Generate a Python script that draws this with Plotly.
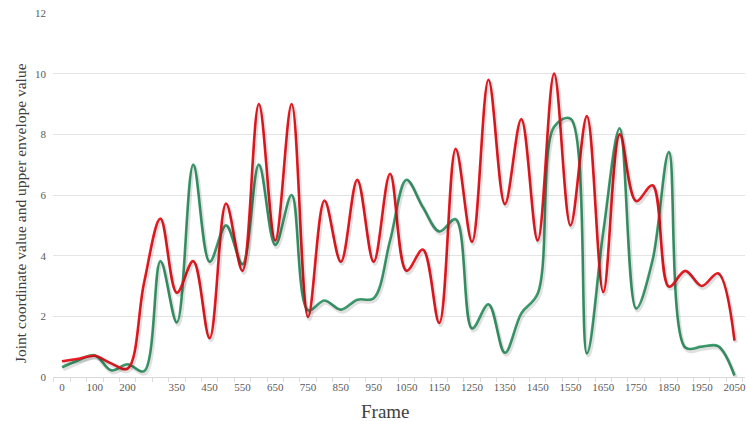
import plotly.graph_objects as go

frames = list(range(0, 2051, 50))
red_values = [0.52, 0.6, 0.7, 0.45, 0.28, 3.1, 5.22, 2.78, 3.82, 1.28, 5.72, 3.5, 9.0, 4.5, 9.0, 1.98,
              5.82, 3.8, 6.5, 3.8, 6.7, 3.5, 4.2, 1.78, 7.52, 4.46, 9.8, 5.7, 8.5, 4.5, 10.0, 5.0,
              8.6, 2.8, 8.0, 5.8, 6.32, 2.98, 3.5, 3.0, 3.42, 1.2]
green_values = [0.32, 0.55, 0.72, 0.22, 0.42, 0.19, 3.82, 1.8, 7.0, 3.8, 5.0, 3.72, 7.0, 4.35, 6.0, 2.2,
                2.52, 2.22, 2.55, 2.6, 4.5, 6.5, 5.6, 4.8, 5.2, 1.6, 2.4, 0.8, 2.1, 2.75, 8.25, 8.52,
                0.78, 4.8, 8.2, 2.26, 3.85, 7.42, 0.97, 1.0, 1.02, 0.05]
x_tick_values = [0, 100, 200] + list(range(350, 2051, 100))
y_tick_values = [0, 2, 4, 6, 8, 10, 12]

RED = "#ec1c24"
GREEN = "#3d9c6e"
SERIF = "Liberation Serif, Times New Roman, serif"

W, H = 748, 421
ML, MR, MT, MB = 53, 3, 13, 44

xr = [-27.4, 2082]
yr = [0, 12]
dx = 4.0
dy = 0.07

fig = go.Figure()
# soft shadows (drawn on offset overlay axes)
for vals in (red_values, green_values):
    fig.add_trace(go.Scatter(x=frames, y=vals, mode="lines", xaxis="x2", yaxis="y2",
                             line=dict(color="rgba(0,0,0,0.12)", width=4, shape="spline", smoothing=1.0),
                             hoverinfo="skip", showlegend=False))
fig.add_trace(go.Scatter(x=frames, y=green_values, mode="lines", name="Joint coordinate value",
                         line=dict(color=GREEN, width=2.6, shape="spline", smoothing=1.0), showlegend=False))
fig.add_trace(go.Scatter(x=frames, y=red_values, mode="lines", name="Upper envelope value",
                         line=dict(color=RED, width=2.6, shape="spline", smoothing=1.0), showlegend=False))

pw = W - ML - MR
ph = H - MT - MB

def px_to_paper_x(px):
    return (px - ML) / pw

def px_to_paper_y(py):
    return (H - MB - py) / ph

fig.update_layout(
    width=W, height=H,
    margin=dict(l=ML, r=MR, t=MT, b=MB, autoexpand=False),
    paper_bgcolor="white", plot_bgcolor="white",
    font=dict(family=SERIF, color="#595959", size=11),
    xaxis=dict(range=xr, tickmode="array", tickvals=x_tick_values, ticktext=[str(v) for v in x_tick_values],
               automargin=False,
               showgrid=False, zeroline=False, showline=True, linecolor="#d9d9d9", linewidth=1,
               ticks="", ticklen=0,
               minor=dict(tickmode="array", tickvals=[v - 25 for v in range(0, 2101, 50)],
                          ticks="outside", ticklen=4, tickcolor="#d9d9d9"),
               tickfont=dict(family=SERIF, size=11, color="#595959")),
    yaxis=dict(range=yr, tickvals=y_tick_values, showgrid=True, gridcolor="#e4e4e4", gridwidth=1,
               automargin=False,
               zeroline=False, showline=False, ticks="", ticklabelstandoff=6,
               tickfont=dict(family=SERIF, size=11, color="#595959")),
    xaxis2=dict(range=[xr[0] - dx, xr[1] - dx], overlaying="x", visible=False),
    yaxis2=dict(range=[yr[0] + dy, yr[1] + dy], overlaying="y", visible=False),
    annotations=[
        dict(text="Frame", xref="paper", yref="paper", x=px_to_paper_x(385), y=px_to_paper_y(411),
             xanchor="center", yanchor="middle", showarrow=False,
             font=dict(family=SERIF, size=19, color="#404040")),
        dict(text="Joint coordinate value and upper envelope value", xref="paper", yref="paper",
             x=px_to_paper_x(20), y=px_to_paper_y(213), textangle=-90,
             xanchor="center", yanchor="middle", showarrow=False,
             font=dict(family=SERIF, size=15.5, color="#404040")),
    ],
)

fig.write_html("out.html", config={"displayModeBar": False},
               post_script="document.body.style.margin='0px';document.body.style.overflow='hidden';")
